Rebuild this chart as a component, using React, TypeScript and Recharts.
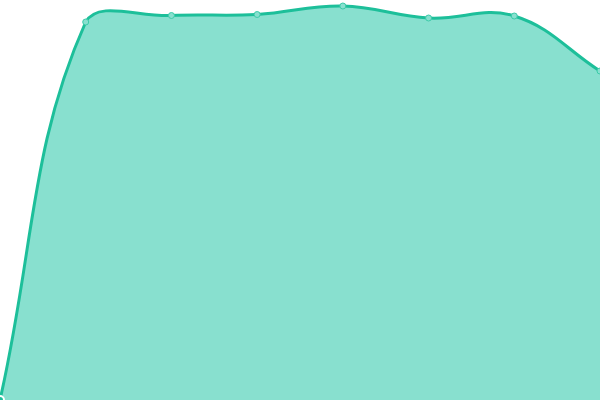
import React from 'react';
import { AreaChart, Area, XAxis, YAxis } from 'recharts';

const categories = ['A', 'B', 'C', 'D', 'E', 'F', 'G', 'H'];
const values = [0, 378, 384.5, 385.5, 394, 382, 384, 329];

const data = categories.map((c, i) => ({ name: c, value: values[i] }));

const W = 600;
const H = 400;
const TENSION = 0.4;

function splineCurve(context: any) {
  let pts: [number, number][] = [];
  let line = NaN;
  const clamp = (v: number, lo: number, hi: number) => Math.max(lo, Math.min(hi, v));
  return {
    areaStart() { line = 0; },
    areaEnd() { line = NaN; },
    lineStart() { pts = []; },
    point(x: number, y: number) { pts.push([+x, +y]); },
    lineEnd() {
      const n = pts.length;
      if (n > 0) {
        if (line) context.lineTo(pts[0][0], pts[0][1]);
        else context.moveTo(pts[0][0], pts[0][1]);
        const cps = pts.map((cur, i) => {
          const prev = pts[i - 1] || cur;
          const next = pts[i + 1] || cur;
          const d01 = Math.hypot(cur[0] - prev[0], cur[1] - prev[1]);
          const d12 = Math.hypot(next[0] - cur[0], next[1] - cur[1]);
          let s01 = d01 / (d01 + d12);
          let s12 = d12 / (d01 + d12);
          if (isNaN(s01)) s01 = 0;
          if (isNaN(s12)) s12 = 0;
          const fa = TENSION * s01;
          const fb = TENSION * s12;
          return {
            px: clamp(cur[0] - fa * (next[0] - prev[0]), 0, W),
            py: clamp(cur[1] - fa * (next[1] - prev[1]), 0, H),
            nx: clamp(cur[0] + fb * (next[0] - prev[0]), 0, W),
            ny: clamp(cur[1] + fb * (next[1] - prev[1]), 0, H),
          };
        });
        for (let i = 1; i < n; i++) {
          context.bezierCurveTo(cps[i - 1].nx, cps[i - 1].ny, cps[i].px, cps[i].py, pts[i][0], pts[i][1]);
        }
      }
      if (line || (line !== 0 && n === 1)) context.closePath();
      line = 1 - line;
    },
  };
}

export default function App() {
  return (
    <div style={{ position: 'absolute', left: 0, top: 0, width: W, height: H }}>
      <AreaChart width={W} height={H} data={data} margin={{ top: 0, right: 0, bottom: 0, left: 0 }}>
        <XAxis dataKey="name" hide />
        <YAxis hide domain={[0, 400]} />
        <Area
          type={splineCurve as any}
          dataKey="value"
          stroke="#1dbf9a"
          strokeWidth={3}
          fill="#88e0cf"
          fillOpacity={1}
          dot={{ r: 3, fill: '#88e0cf', stroke: '#3ccba9', strokeWidth: 1 }}
          isAnimationActive={false}
        />
      </AreaChart>
    </div>
  );
}
